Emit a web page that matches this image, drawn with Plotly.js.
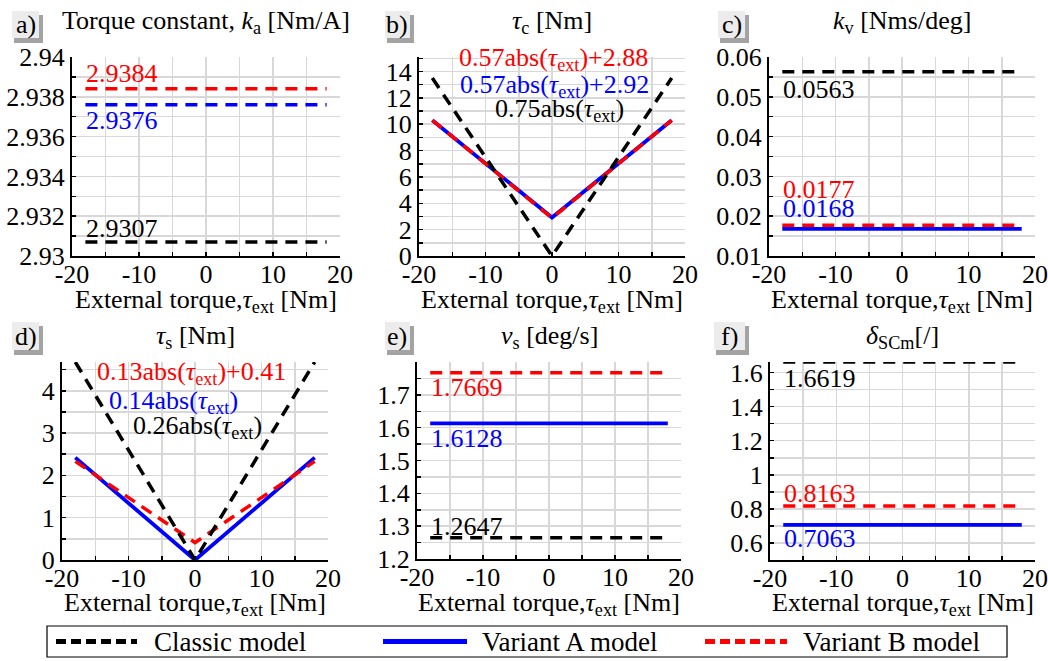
<!DOCTYPE html>
<html>
<head>
<meta charset="utf-8">
<script src="https://cdn.plot.ly/plotly-3.0.1.min.js"></script>
<style>html,body{margin:0;padding:0;background:#fff;}#chart{width:1048px;height:661px;}</style>
</head>
<body>
<div id="chart"></div>
<script>
// ---------- data ----------
const flatX = [-18, 18];
const vX = [-18, 0, 18];

// a) torque constant k_a
const kaClassic = [2.9307, 2.9307];
const kaVarA = [2.9376, 2.9376];
const kaVarB = [2.9384, 2.9384];
// b) tau_c
const tcClassic = [13.5, 0, 13.5];
const tcVarA = [10.3, 2.92, 10.3];
const tcVarB = [10.3, 2.88, 10.3];
// c) k_v
const kvClassic = [0.0563, 0.0563];
const kvVarA = [0.0168, 0.0168];
const kvVarB = [0.0177, 0.0177];
// d) tau_s
const tsClassic = [4.68, 0, 4.68];
const tsVarA = [2.42, 0, 2.42];
const tsVarB = [2.33, 0.41, 2.33];
// e) v_s
const vsClassic = [1.2647, 1.2647];
const vsVarA = [1.6128, 1.6128];
const vsVarB = [1.7669, 1.7669];
// f) delta_SCm
const dClassic = [1.6619, 1.6619];
const dVarA = [0.7063, 0.7063];
const dVarB = [0.8163, 0.8163];

const seriesNames = ['Classic model', 'Variant A model', 'Variant B model'];

// tick labels
const xTickVals = [-20, -10, 0, 10, 20];
const xTickText = ['-20', '-10', '0', '10', '20'];
const aTickVals = [2.93, 2.932, 2.934, 2.936, 2.938, 2.94];
const aTickText = ['2.93', '2.932', '2.934', '2.936', '2.938', '2.94'];
const bTickVals = [0, 2, 4, 6, 8, 10, 12, 14];
const bTickText = ['0', '2', '4', '6', '8', '10', '12', '14'];
const cTickVals = [0.01, 0.02, 0.03, 0.04, 0.05, 0.06];
const cTickText = ['0.01', '0.02', '0.03', '0.04', '0.05', '0.06'];
const dTickVals = [0, 1, 2, 3, 4];
const dTickText = ['0', '1', '2', '3', '4'];
const eTickVals = [1.2, 1.3, 1.4, 1.5, 1.6, 1.7];
const eTickText = ['1.2', '1.3', '1.4', '1.5', '1.6', '1.7'];
const fTickVals = [0.6, 0.8, 1, 1.2, 1.4, 1.6];
const fTickText = ['0.6', '0.8', '1', '1.2', '1.4', '1.6'];
const xTitle = 'External torque,<i>τ</i><sub>ext</sub> [Nm]';

// ---------- layout helpers ----------
const W = 1048, H = 661;
const px = v => v / W;
const py = v => 1 - v / H;
const FONT = 'Liberation Serif';
const FS = 26;
const RED = '#ff0000', BLUE = '#0000ff', BLACK = '#000000';
const DASH = '12px,8px';
const GRID = '#d8d8d8';

const panels = [
  {id: 'a', x0: 72, x1: 340, y0: 57, y1: 256, yr: [2.93, 2.94], tv: aTickVals, tt: aTickText, minor: 0.001,
   title: 'Torque constant, <i>k</i><sub>a</sub> [Nm/A]'},
  {id: 'b', x0: 419, x1: 685, y0: 57, y1: 256, yr: [0, 15.1], tv: bTickVals, tt: bTickText, minor: 1,
   title: '<i>τ</i><sub>c</sub> [Nm]'},
  {id: 'c', x0: 769, x1: 1035, y0: 57, y1: 256, yr: [0.01, 0.06], tv: cTickVals, tt: cTickText, minor: 0.005,
   title: '<i>k</i><sub>v</sub> [Nms/deg]'},
  {id: 'd', x0: 62, x1: 328, y0: 362, y1: 560, yr: [0, 4.68], tv: dTickVals, tt: dTickText, minor: 0.5,
   title: '<i>τ</i><sub>s</sub> [Nm]'},
  {id: 'e', x0: 417, x1: 681, y0: 362, y1: 559, yr: [1.2, 1.8], tv: eTickVals, tt: eTickText, minor: 0.05,
   title: '<i>v</i><sub>s</sub> [deg/s]'},
  {id: 'f', x0: 770, x1: 1035, y0: 362, y1: 560, yr: [0.5, 1.6619], tv: fTickVals, tt: fTickText, minor: 0.1,
   title: '<i>δ</i><sub>SCm</sub>[/]'}
];

const panelData = [
  {x: flatX, cl: kaClassic, a: kaVarA, b: kaVarB, aDash: true},
  {x: vX, cl: tcClassic, a: tcVarA, b: tcVarB, aDash: false},
  {x: flatX, cl: kvClassic, a: kvVarA, b: kvVarB, aDash: false},
  {x: vX, cl: tsClassic, a: tsVarA, b: tsVarB, aDash: false},
  {x: flatX, cl: vsClassic, a: vsVarA, b: vsVarB, aDash: false},
  {x: flatX, cl: dClassic, a: dVarA, b: dVarB, aDash: false}
];

const traces = [];
const layout = {
  width: W, height: H,
  margin: {l: 0, r: 0, t: 0, b: 0},
  paper_bgcolor: '#fff', plot_bgcolor: '#fff',
  font: {family: FONT, size: FS, color: '#000'},
  showlegend: false,
  shapes: [], annotations: []
};

panels.forEach((p, i) => {
  const n = i + 1;
  const xa = n === 1 ? 'xaxis' : 'xaxis' + n;
  const ya = n === 1 ? 'yaxis' : 'yaxis' + n;
  const xr = n === 1 ? 'x' : 'x' + n;
  const yr = n === 1 ? 'y' : 'y' + n;
  layout[xa] = {
    domain: [px(p.x0), px(p.x1)], anchor: yr, range: [-20, 20],
    tickmode: 'array', tickvals: xTickVals, ticktext: xTickText,
    ticks: 'inside', ticklen: 4, tickwidth: 1.5, tickcolor: '#000',
    ticklabeloverflow: 'allow', ticklabelstandoff: -6,
    minor: {tickmode: 'linear', tick0: -20, dtick: 5, showgrid: true, gridcolor: GRID, gridwidth: 1.5,
            ticks: 'inside', ticklen: 4, tickwidth: 1.5, tickcolor: '#000'},
    showline: true, linecolor: '#000', linewidth: 2,
    showgrid: true, gridcolor: GRID, gridwidth: 1.5, zeroline: false,
    tickfont: {family: FONT, size: FS, color: '#000'},
    fixedrange: true
  };
  layout[ya] = {
    domain: [py(p.y1), py(p.y0)], anchor: xr, range: p.yr,
    tickmode: 'array', tickvals: p.tv, ticktext: p.tt,
    ticks: 'inside', ticklen: 4, tickwidth: 1.5, tickcolor: '#000',
    ticklabeloverflow: 'allow',
    minor: {tickmode: 'linear', tick0: p.yr[0], dtick: p.minor, showgrid: true, gridcolor: GRID, gridwidth: 1.5,
            ticks: 'inside', ticklen: 4, tickwidth: 1.5, tickcolor: '#000'},
    showline: true, linecolor: '#000', linewidth: 2,
    showgrid: true, gridcolor: GRID, gridwidth: 1.5, zeroline: false,
    tickfont: {family: FONT, size: FS, color: '#000'},
    fixedrange: true
  };

  const d = panelData[i];
  traces.push({x: d.x, y: d.a, xaxis: xr, yaxis: yr, mode: 'lines', name: seriesNames[1],
    line: {color: BLUE, width: d.aDash ? 3.5 : 3.8, dash: d.aDash ? DASH : 'solid'}, hoverinfo: 'skip'});
  traces.push({x: d.x, y: d.b, xaxis: xr, yaxis: yr, mode: 'lines', name: seriesNames[2],
    line: {color: RED, width: 3.5, dash: DASH}, hoverinfo: 'skip'});
  traces.push({x: d.x, y: d.cl, xaxis: xr, yaxis: yr, mode: 'lines', name: seriesNames[0],
    line: {color: BLACK, width: 3.5, dash: DASH}, hoverinfo: 'skip'});

  // panel title
  layout.annotations.push({xref: 'paper', yref: 'paper', x: px((p.x0 + p.x1) / 2), y: py(i < 3 ? 22 : 337),
    xanchor: 'center', yanchor: 'middle', showarrow: false, text: p.title,
    font: {family: FONT, size: FS, color: '#000'}});
  // x-axis title
  layout.annotations.push({xref: 'paper', yref: 'paper', x: px((p.x0 + p.x1) / 2), y: py(i < 3 ? 301 : 604),
    xanchor: 'center', yanchor: 'middle', showarrow: false, borderpad: 0, text: xTitle,
    font: {family: FONT, size: FS, color: '#000'}});

  // panel label box with shadow
  const bx0 = [12, 385, 718, 12, 385, 714][i], bx1 = [39, 410, 745, 39, 410, 745][i];
  const by0 = i < 3 ? 11 : 322, by1 = i < 3 ? 38 : 350;
  layout.shapes.push({type: 'rect', xref: 'paper', yref: 'paper', x0: px(bx0 + 2), x1: px(bx1 + 4),
    y0: py(by1 + 5), y1: py(by0 + 4), fillcolor: '#a3a3a3', line: {width: 0}, layer: 'above'});
  layout.shapes.push({type: 'rect', xref: 'paper', yref: 'paper', x0: px(bx0), x1: px(bx1),
    y0: py(by1), y1: py(by0), fillcolor: '#ececec', line: {width: 0}, layer: 'above'});
  layout.annotations.push({xref: 'paper', yref: 'paper', x: px((bx0 + bx1) / 2), y: py((by0 + by1) / 2),
    xanchor: 'center', yanchor: 'middle', showarrow: false, text: p.id + ')',
    font: {family: FONT, size: FS, color: '#000'}});
});

// value annotations
function valAnn(axisN, value, color, shift) {
  const xr = axisN === 1 ? 'x' : 'x' + axisN;
  const yr = axisN === 1 ? 'y' : 'y' + axisN;
  layout.annotations.push({xref: xr, yref: yr, x: flatX[0], y: value, xanchor: 'left', yanchor: 'middle',
    yshift: shift, showarrow: false, borderpad: 0, text: value.toFixed(4), font: {family: FONT, size: FS, color: color}});
}
valAnn(1, kaVarB[0], RED, 15);
valAnn(1, kaVarA[0], BLUE, -16);
valAnn(1, kaClassic[0], BLACK, 14);
valAnn(3, kvClassic[0], BLACK, -18);
valAnn(3, kvVarB[0], RED, 36);
valAnn(3, kvVarA[0], BLUE, 20);
valAnn(5, vsVarB[0], RED, -15);
valAnn(5, vsVarA[0], BLUE, -15);
valAnn(5, vsClassic[0], BLACK, 11);
valAnn(6, dClassic[0], BLACK, -16);
valAnn(6, dVarB[0], RED, 13);
valAnn(6, dVarA[0], BLUE, -14);

// equation annotations
const T = '<i>τ</i><sub>ext</sub>';
function eqAnn(cx, cy, text, color) {
  layout.annotations.push({xref: 'paper', yref: 'paper', x: px(cx), y: py(cy), xanchor: 'center', yanchor: 'middle',
    showarrow: false, borderpad: 0, text: text, font: {family: FONT, size: FS, color: color}});
}
eqAnn(553, 59, '0.57abs(' + T + ')+2.88', RED);
eqAnn(554, 86, '0.57abs(' + T + ')+2.92', BLUE);
eqAnn(559, 110, '0.75abs(' + T + ')', BLACK);
eqAnn(191, 373, '0.13abs(' + T + ')+0.41', RED);
eqAnn(173, 402, '0.14abs(' + T + ')', BLUE);
eqAnn(197, 427, '0.26abs(' + T + ')', BLACK);

// legend (box, line samples, labels)
const LEG_Y = 641.5;
layout.shapes.push({type: 'rect', xref: 'paper', yref: 'paper', x0: px(47), x1: px(1007), y0: py(657), y1: py(626),
  fillcolor: '#fff', line: {color: '#000', width: 1.2}, layer: 'above'});
const legItems = [
  {name: seriesNames[0], color: BLACK, dash: '10px,5px', s0: 56, s1: 137, t: 153},
  {name: seriesNames[1], color: BLUE, dash: 'solid', s0: 383, s1: 467, t: 481},
  {name: seriesNames[2], color: RED, dash: '10px,5px', s0: 705, s1: 787, t: 802}
];
legItems.forEach(it => {
  layout.shapes.push({type: 'line', xref: 'paper', yref: 'paper', x0: px(it.s0), x1: px(it.s1), y0: py(LEG_Y), y1: py(LEG_Y),
    line: {color: it.color, width: 5, dash: it.dash}, layer: 'above'});
  layout.annotations.push({xref: 'paper', yref: 'paper', x: px(it.t), y: py(LEG_Y), xanchor: 'left', yanchor: 'middle',
    showarrow: false, borderpad: 0, text: it.name, font: {family: FONT, size: 27, color: '#000'}});
});

Plotly.newPlot('chart', traces, layout, {staticPlot: true, displayModeBar: false});
</script>
</body>
</html>
